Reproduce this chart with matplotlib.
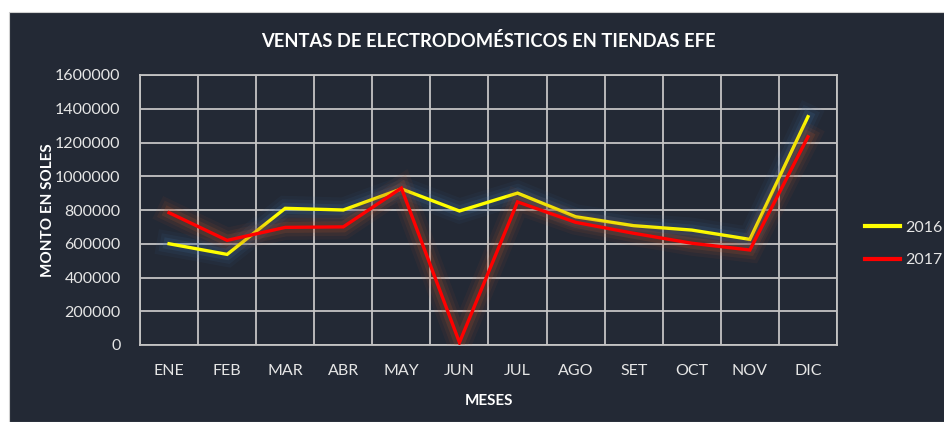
import matplotlib.pyplot as plt
import matplotlib.patheffects as pe
from matplotlib.patches import Rectangle
from matplotlib.ticker import FixedLocator

months = ['ENE', 'FEB', 'MAR', 'ABR', 'MAY', 'JUN', 'JUL', 'AGO', 'SET', 'OCT', 'NOV', 'DIC']
ventas_2016 = [600000, 537000, 810000, 800000, 925000, 794000, 900000, 760000, 707000, 681000, 626000, 1353000]
ventas_2017 = [784000, 620000, 697000, 700000, 930000, 15000, 848000, 727000, 662000, 603000, 563000, 1234000]
y_ticks = [0, 200000, 400000, 600000, 800000, 1000000, 1200000, 1400000, 1600000]

bg = '#232935'
grid_c = '#c4c4c4'
text_c = '#e6e6e6'
plt.rcParams['font.family'] = ['Lato', 'DejaVu Sans']

fig = plt.figure(figsize=(9.45, 4.22), dpi=100, facecolor='white')
fig.patches.append(Rectangle((9 / 945, 0), 1, 1 - 12 / 422, transform=fig.transFigure,
                             facecolor=bg, edgecolor='#d0d0d0', linewidth=0.8, zorder=-5))
ax = fig.add_axes([140 / 945, 77 / 422, 697 / 945, 270 / 422])
ax.set_facecolor(bg)

x = list(range(len(months)))


def glow(color):
    # soft halo under the line
    return [pe.Stroke(linewidth=18, foreground=color, alpha=0.07),
            pe.Stroke(linewidth=13, foreground=color, alpha=0.10),
            pe.Stroke(linewidth=8, foreground=color, alpha=0.18),
            pe.Normal()]


ax.plot(x, ventas_2016, color='#ffff00', linewidth=2.4, label='2016', zorder=4,
        path_effects=glow('#3f6b9a'), solid_joinstyle='miter')
ax.plot(x, ventas_2017, color='#ff0000', linewidth=2.4, label='2017', zorder=5,
        path_effects=glow('#b5532a'), solid_joinstyle='miter')

ax.set_xlim(-0.5, 11.5)
ax.set_ylim(0, 1600000)
ax.set_xticks(x)
ax.set_xticklabels(months)
ax.xaxis.set_minor_locator(FixedLocator([i + 0.5 for i in range(-1, 12)]))
ax.set_yticks(y_ticks)
ax.set_yticklabels([str(v) for v in y_ticks])
ax.grid(True, which='minor', axis='x', color=grid_c, linewidth=1.3)
ax.grid(True, which='major', axis='y', color=grid_c, linewidth=1.3)
ax.set_axisbelow(True)
ax.tick_params(axis='both', which='both', length=0, colors=text_c, labelsize=11.5)
ax.tick_params(axis='x', pad=14)
ax.tick_params(axis='y', pad=14)
for s in ax.spines.values():
    s.set_color(grid_c)
    s.set_linewidth(1.3)

ax.set_title('VENTAS DE ELECTRODOMÉSTICOS EN TIENDAS EFE', color='#ffffff',
             fontsize=13.2, fontweight='bold', pad=20)
ax.set_xlabel('MESES', color='#ffffff', fontsize=11, fontweight='bold', labelpad=11)
ax.set_ylabel('MONTO EN SOLES', color='#ffffff', fontsize=11, fontweight='bold', labelpad=0)

leg = ax.legend(loc='center left', bbox_to_anchor=(1.02, 0.375), frameon=False,
                fontsize=11.5, handlelength=2.2, labelspacing=1.15, handletextpad=0.3)
for t in leg.get_texts():
    t.set_color(text_c)
for h in leg.get_lines():
    h.set_path_effects([])
    h.set_linewidth(3)

fig.savefig('out.png', dpi=100, facecolor=fig.get_facecolor())
